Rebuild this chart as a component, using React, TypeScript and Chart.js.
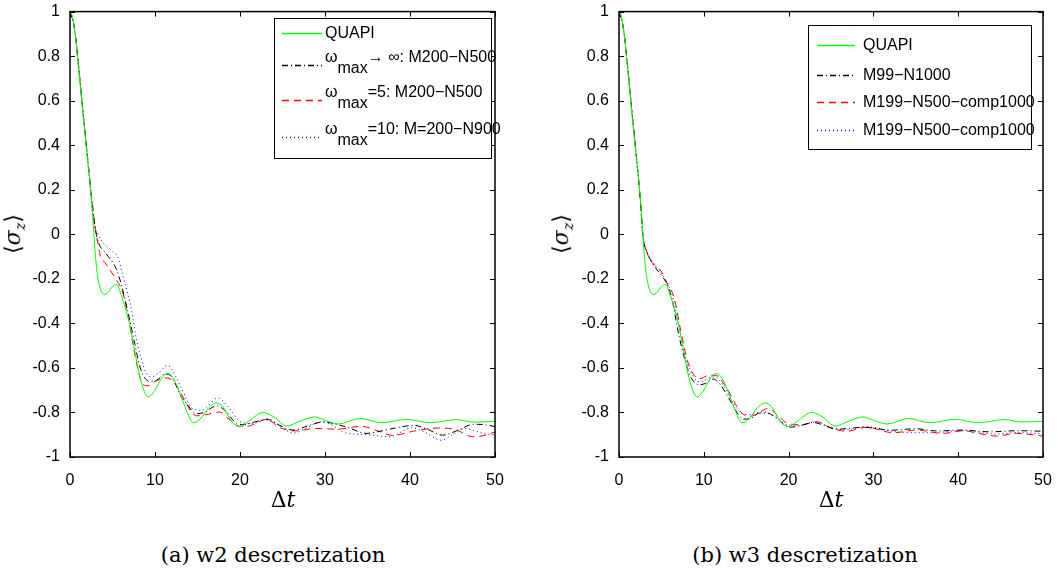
import React, { useEffect, useRef } from "react";
import { Chart, registerables } from "chart.js";
Chart.register(...registerables);

// ---------- data ----------
const xTicks = [0, 10, 20, 30, 40, 50];
const yTicks = [1, 0.8, 0.6, 0.4, 0.2, 0, -0.2, -0.4, -0.6, -0.8, -1];

const quapiT = [0, 0.2, 0.5, 1, 1.5, 2, 2.5, 3, 3.3, 4, 4.5, 5, 5.5, 6, 6.5, 7, 7.5, 8, 8.5, 9.2, 10, 10.8, 11.5, 12.2, 13, 13.8, 14.5, 15.3, 16.3, 17.2, 18, 19, 20, 21, 22.7, 24, 25.5, 27, 28.8, 30, 31.6, 34.1, 36.7, 39.6, 42.4, 45.5, 47.4, 50];
const quapiV = [1, 0.99, 0.93, 0.75, 0.55, 0.36, 0.17, -0.1, -0.2, -0.27, -0.26, -0.235, -0.225, -0.27, -0.33, -0.4, -0.5, -0.6, -0.68, -0.73, -0.7, -0.645, -0.625, -0.65, -0.72, -0.8, -0.846, -0.83, -0.78, -0.757, -0.775, -0.84, -0.864, -0.84, -0.8, -0.82, -0.861, -0.84, -0.82, -0.835, -0.852, -0.827, -0.846, -0.831, -0.846, -0.832, -0.843, -0.84];

// panel (a)
const aInfT = [0, 0.5, 1, 1.5, 2, 2.5, 3, 3.5, 4, 4.5, 5, 5.5, 6, 6.7, 7.45, 8.24, 8.8, 9.4, 10.2, 11.2, 11.8, 12.5, 13.1, 13.7, 14.9, 15.8, 17.25, 18.2, 19.6, 20.5, 21.5, 23.3, 24.5, 26.3, 28, 29.9, 31, 32.5, 34.9, 36, 38, 40.5, 42, 43.9, 45.5, 47.5, 48.8, 50];
const aInfV = [1, 0.93, 0.76, 0.56, 0.37, 0.18, 0.02, -0.05, -0.075, -0.1, -0.125, -0.16, -0.22, -0.33, -0.46, -0.596, -0.645, -0.66, -0.655, -0.628, -0.633, -0.68, -0.73, -0.76, -0.805, -0.8, -0.77, -0.79, -0.849, -0.855, -0.845, -0.832, -0.855, -0.879, -0.86, -0.842, -0.85, -0.865, -0.894, -0.888, -0.872, -0.858, -0.875, -0.902, -0.882, -0.853, -0.855, -0.864];

const a5T = [0, 0.5, 1, 1.5, 2, 2.5, 3, 3.33, 3.6, 4.1, 4.7, 5.3, 6.27, 7.06, 7.84, 8.6, 9.2, 10, 10.8, 11.4, 12.16, 13.5, 14.3, 14.9, 16, 17.6, 18.7, 20, 20.8, 23.1, 24.8, 26.5, 28.8, 31.4, 34.3, 36, 38, 40.4, 43.2, 45.2, 47.4, 48.5, 50];
const a5V = [1, 0.93, 0.76, 0.56, 0.37, 0.18, 0.02, -0.05, -0.1, -0.126, -0.16, -0.195, -0.27, -0.417, -0.58, -0.675, -0.68, -0.66, -0.648, -0.645, -0.66, -0.745, -0.8, -0.815, -0.81, -0.798, -0.83, -0.862, -0.862, -0.832, -0.87, -0.883, -0.872, -0.875, -0.862, -0.88, -0.903, -0.884, -0.87, -0.875, -0.909, -0.905, -0.888];

const a10T = [0, 0.5, 1, 1.5, 2, 2.75, 3.3, 3.92, 4.5, 5.1, 5.6, 6.27, 7.25, 7.84, 8.43, 9, 9.6, 10.5, 11.5, 12.35, 13.1, 14.5, 15.5, 17.4, 18.5, 20.2, 21.5, 23.2, 24.7, 26.3, 27.8, 29.5, 30.5, 32.3, 35, 37.6, 40.2, 41.8, 43.7, 45, 46.5, 48.6, 50];
const a10V = [1, 0.93, 0.76, 0.56, 0.37, 0.06, 0.0, -0.04, -0.06, -0.08, -0.1, -0.193, -0.342, -0.477, -0.565, -0.625, -0.64, -0.62, -0.588, -0.633, -0.69, -0.785, -0.79, -0.735, -0.77, -0.845, -0.85, -0.827, -0.86, -0.893, -0.87, -0.842, -0.85, -0.89, -0.9, -0.909, -0.868, -0.89, -0.925, -0.9, -0.872, -0.894, -0.902];

// panel (b)
const bM99T = [0, 0.5, 1, 1.5, 2, 2.5, 2.87, 3.3, 4.3, 5.1, 5.6, 6.29, 6.87, 7.67, 8.45, 9.4, 10.2, 11.1, 12, 13.2, 14.1, 14.7, 15.5, 16.6, 17.5, 18.6, 20.2, 21.5, 22.9, 24.3, 25.7, 27.5, 28.8, 30.5, 32, 35, 37.5, 40.6, 43.7, 46.9, 50];
const bM99V = [1, 0.93, 0.76, 0.56, 0.37, 0.16, -0.02, -0.08, -0.15, -0.19, -0.22, -0.298, -0.417, -0.551, -0.64, -0.675, -0.67, -0.65, -0.678, -0.753, -0.81, -0.83, -0.827, -0.803, -0.803, -0.827, -0.866, -0.858, -0.845, -0.86, -0.875, -0.87, -0.866, -0.873, -0.88, -0.873, -0.883, -0.879, -0.887, -0.882, -0.884];

const bRedT = [0, 0.5, 1, 1.5, 2, 2.5, 2.8, 3.2, 3.74, 4.92, 5.7, 6.49, 7.28, 8.06, 8.8, 9.5, 10.7, 11.4, 12.6, 13.6, 14.3, 15.3, 16, 17.6, 18.6, 19.96, 21.5, 23.3, 25, 26.85, 29.2, 32.35, 35.1, 38.2, 40.6, 42.5, 44.5, 46.9, 50];
const bRedV = [1, 0.93, 0.76, 0.56, 0.37, 0.16, 0.0, -0.07, -0.119, -0.163, -0.223, -0.283, -0.432, -0.566, -0.63, -0.648, -0.633, -0.633, -0.685, -0.753, -0.795, -0.818, -0.812, -0.782, -0.81, -0.85, -0.855, -0.842, -0.87, -0.884, -0.867, -0.891, -0.879, -0.894, -0.882, -0.895, -0.906, -0.894, -0.906];

const bBlueT = [0, 0.5, 1, 1.5, 2, 2.5, 2.8, 3.3, 4.3, 5.2, 5.8, 6.4, 7.1, 7.9, 8.7, 9.55, 10.6, 11.3, 12.4, 13.5, 14.5, 15.3, 17, 18.3, 20, 21.5, 23.3, 24.8, 26.45, 29.2, 32.7, 36.7, 40.6, 44.5, 47, 50];
const bBlueV = [1, 0.93, 0.76, 0.56, 0.37, 0.16, 0.0, -0.08, -0.14, -0.185, -0.225, -0.29, -0.42, -0.56, -0.635, -0.663, -0.645, -0.64, -0.685, -0.76, -0.805, -0.81, -0.797, -0.815, -0.857, -0.857, -0.842, -0.865, -0.879, -0.864, -0.887, -0.891, -0.882, -0.897, -0.89, -0.897];

const GREEN = "#00ff00";
const BLACK = "#000000";
const RED = "#ff0000";
const BLUE = "#0000ff";
const DASH_DOT = [6, 3, 1, 3];
const DASHED = [7, 5];
const DOTTED = [1, 3];

const TICK_FONT = "'Liberation Sans', Arial, sans-serif";

const pts = (t: number[], v: number[]) => t.map((x, i) => ({ x, y: v[i] }));

type LegendRow = { color: string; dash: number[]; text: string; sub?: string; rest?: string; lineY: number };
type LegendCfg = { left: number; top: number; w: number; h: number; lx0: number; lx1: number; tx: number; rows: LegendRow[] };

function makePlugin(legend: LegendCfg) {
  return {
    id: "matlabFrame",
    afterDatasetsDraw(chart: any) {
      const ctx = chart.ctx as CanvasRenderingContext2D;
      const a = chart.chartArea;
      const xs = chart.scales.x;
      const ys = chart.scales.y;
      ctx.save();
      ctx.strokeStyle = "#000";
      ctx.lineWidth = 1.5;
      ctx.setLineDash([]);
      ctx.strokeRect(a.left, a.top, a.right - a.left, a.bottom - a.top);
      const tl = 5;
      ctx.lineWidth = 1;
      ctx.beginPath();
      xTicks.forEach((t) => {
        const px = Math.round(xs.getPixelForValue(t)) + 0.5;
        ctx.moveTo(px, a.bottom);
        ctx.lineTo(px, a.bottom - tl);
        ctx.moveTo(px, a.top);
        ctx.lineTo(px, a.top + tl);
      });
      yTicks.forEach((t) => {
        const py = Math.round(ys.getPixelForValue(t)) + 0.5;
        ctx.moveTo(a.left, py);
        ctx.lineTo(a.left + tl, py);
        ctx.moveTo(a.right, py);
        ctx.lineTo(a.right - tl, py);
      });
      ctx.stroke();

      // legend
      const L = legend;
      ctx.fillStyle = "#fff";
      ctx.fillRect(L.left, L.top, L.w, L.h);
      ctx.strokeStyle = "#000";
      ctx.lineWidth = 1;
      ctx.strokeRect(L.left + 0.5, L.top + 0.5, L.w, L.h);
      ctx.font = `16px ${TICK_FONT}`;
      ctx.textBaseline = "middle";
      ctx.textAlign = "left";
      L.rows.forEach((r) => {
        const y = L.top + r.lineY;
        ctx.strokeStyle = r.color;
        ctx.lineWidth = 1.3;
        ctx.setLineDash(r.dash);
        ctx.beginPath();
        ctx.moveTo(L.left + L.lx0, y + 0.5);
        ctx.lineTo(L.left + L.lx1, y + 0.5);
        ctx.stroke();
        ctx.setLineDash([]);
        ctx.fillStyle = "#000";
        const x0 = L.left + L.tx;
        if (r.sub) {
          const ty = y - 7;
          ctx.fillText(r.text, x0, ty);
          const w1 = ctx.measureText(r.text).width;
          ctx.fillText(r.sub, x0 + w1, y + 4);
          const w2 = ctx.measureText(r.sub).width;
          ctx.fillText(r.rest || "", x0 + w1 + w2, ty);
        } else {
          ctx.fillText(r.text, x0, y + 1);
        }
      });
      ctx.restore();
    },
  };
}

function makeConfig(datasets: any[], yAxisWidth: number, padRight: number, legend: LegendCfg) {
  return {
    type: "line" as const,
    data: { datasets },
    options: {
      animation: false,
      responsive: false,
      maintainAspectRatio: false,
      layout: { padding: { left: 0, right: padRight, top: 10, bottom: 0 } },
      plugins: { legend: { display: false }, tooltip: { enabled: false } },
      elements: { point: { radius: 0 } },
      scales: {
        x: {
          type: "linear",
          min: 0,
          max: 50,
          afterBuildTicks: (s: any) => {
            s.ticks = xTicks.map((v) => ({ value: v }));
          },
          afterFit: (s: any) => {
            s.height = 63;
          },
          grid: { display: false },
          border: { display: false },
          ticks: {
            color: "#000",
            font: { family: TICK_FONT, size: 16 },
            padding: 6,
            maxRotation: 0,
            autoSkip: false,
            callback: (v: number) => String(v),
          },
        },
        y: {
          type: "linear",
          min: -1,
          max: 1,
          afterBuildTicks: (s: any) => {
            s.ticks = yTicks.map((v) => ({ value: v }));
          },
          afterFit: (s: any) => {
            s.width = yAxisWidth;
          },
          grid: { display: false },
          border: { display: false },
          ticks: {
            color: "#000",
            font: { family: TICK_FONT, size: 16 },
            padding: 2,
            autoSkip: false,
            callback: (v: number) => {
              const r = Math.round(v * 10) / 10;
              return r === 0 ? "0" : String(r);
            },
          },
        },
      },
    },
    plugins: [makePlugin(legend)],
  };
}

const line = (t: number[], v: number[], color: string, dash: number[]) => ({
  data: pts(t, v),
  borderColor: color,
  borderWidth: 1,
  borderDash: dash,
  fill: false,
  pointRadius: 0,
  cubicInterpolationMode: "monotone",
});

function Panel({ left, width, yAxisWidth, padRight, datasets, legend }: any) {
  const ref = useRef<HTMLCanvasElement | null>(null);
  useEffect(() => {
    if (!ref.current) return;
    const chart = new Chart(ref.current, makeConfig(datasets, yAxisWidth, padRight, legend) as any);
    return () => chart.destroy();
  }, []);
  return (
    <canvas
      ref={ref}
      width={width}
      height={520}
      style={{ position: "absolute", left, top: 0, width, height: 520 }}
    />
  );
}

const legendA: LegendCfg = {
  left: 274,
  top: 18,
  w: 217,
  h: 140,
  lx0: 8,
  lx1: 48,
  tx: 51,
  rows: [
    { color: GREEN, dash: [], text: "QUAPI", lineY: 15 },
    { color: BLACK, dash: DASH_DOT, text: "ω", sub: "max", rest: "→ ∞: M200−N500", lineY: 47 },
    { color: RED, dash: DASHED, text: "ω", sub: "max", rest: "=5: M200−N500", lineY: 82 },
    { color: BLUE, dash: DOTTED, text: "ω", sub: "max", rest: "=10: M=200−N900", lineY: 119 },
  ],
};

const legendB: LegendCfg = {
  left: 268,
  top: 25,
  w: 223,
  h: 124,
  lx0: 9,
  lx1: 47,
  tx: 55,
  rows: [
    { color: GREEN, dash: [], text: "QUAPI", lineY: 20 },
    { color: BLACK, dash: DASH_DOT, text: "M99−N1000", lineY: 50 },
    { color: RED, dash: DASHED, text: "M199−N500−comp1000", lineY: 77 },
    { color: BLUE, dash: DOTTED, text: "M199−N500−comp1000", lineY: 105 },
  ],
};

const serif = "'DejaVu Serif', 'Liberation Serif', serif";

function Label({ x, y, children, rotate, size }: any) {
  return (
    <div
      style={{
        position: "absolute",
        left: x,
        top: y,
        transform: `translate(-50%, -50%)${rotate ? " rotate(-90deg)" : ""}`,
        fontFamily: serif,
        fontSize: size,
        whiteSpace: "nowrap",
        lineHeight: 1,
        color: "#000",
      }}
    >
      {children}
    </div>
  );
}

const YLab = () => (
  <span>
    ⟨<i>σ</i>
    <sub style={{ fontSize: "0.65em", fontStyle: "italic" }}>z</sub>⟩
  </span>
);

export default function App() {
  const dsA = [
    line(quapiT, quapiV, GREEN, []),
    line(aInfT, aInfV, BLACK, DASH_DOT),
    line(a5T, a5V, RED, DASHED),
    line(a10T, a10V, BLUE, DOTTED),
  ];
  const dsB = [
    line(quapiT, quapiV, GREEN, []),
    line(bM99T, bM99V, BLACK, DASH_DOT),
    line(bRedT, bRedV, RED, DASHED),
    line(bBlueT, bBlueV, BLUE, DOTTED),
  ];
  return (
    <div style={{ position: "absolute", left: 0, top: 0, width: 1062, height: 571, background: "#fff", overflow: "hidden" }}>
      <Panel left={0} width={540} yAxisWidth={70} padRight={45} datasets={dsA} legend={legendA} />
      <Panel left={540} width={522} yAxisWidth={79} padRight={19} datasets={dsB} legend={legendB} />
      <Label x={15} y={234} rotate size={22}><YLab /></Label>
      <Label x={563} y={234} rotate size={22}><YLab /></Label>
      <Label x={283} y={500} size={22}>Δ<i>t</i></Label>
      <Label x={831} y={500} size={22}>Δ<i>t</i></Label>
      <Label x={273} y={555} size={21}>(a) w2 descretization</Label>
      <Label x={805} y={555} size={21}>(b) w3 descretization</Label>
    </div>
  );
}
